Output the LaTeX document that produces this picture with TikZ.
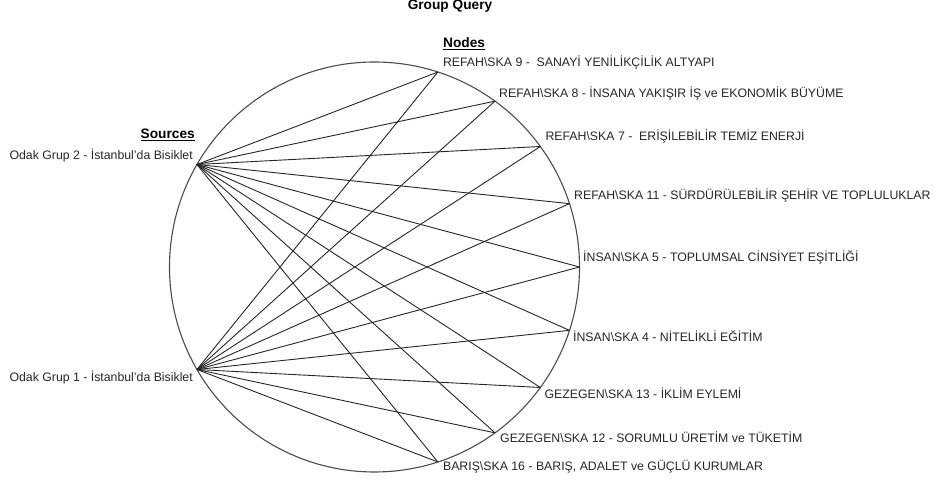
\documentclass[tikz,border=0pt]{standalone}
\usepackage{fontspec}
\setmainfont{Liberation Sans}
\newcommand{\apos}{{\char"27}}
\begin{document}
\begin{tikzpicture}[x=1pt,y=1pt,
  lbl/.style={inner sep=0pt,anchor=base west,font=\fontsize{12.3}{14}\selectfont,text=black!85},
  srclbl/.style={inner sep=0pt,anchor=base east,font=\fontsize{12.3}{14}\selectfont,text=black!85},
  hdr/.style={inner sep=0pt,font=\fontsize{13.7}{16}\selectfont\bfseries},
  edge/.style={line width=0.9pt,draw=black!85},
  ring/.style={line width=1.1pt,draw=black!70}]
\useasboundingbox (0,0) rectangle (934,484);
\coordinate (c) at (374.5,217);
\draw[ring] (c) circle (205);
\begin{scope}[shift={(374.5,217)}]
  \coordinate (n9)  at (72:205);
  \coordinate (n8)  at (54:205);
  \coordinate (n7)  at (36:205);
  \coordinate (n11) at (18:205);
  \coordinate (n5)  at (0:205);
  \coordinate (n4)  at (-18:205);
  \coordinate (n13) at (-36:205);
  \coordinate (n12) at (-54:205);
  \coordinate (n16) at (-72:205);
  \coordinate (s2)  at (150:205);
  \coordinate (s1)  at (210:205);
\end{scope}
% connectors
\foreach \s in {s2,s1}{
  \foreach \n in {n9,n8,n7,n11,n5,n4,n13,n12,n16}{
    \draw[edge] (\s) -- (\n);
  }
}
% titles
\node[hdr,anchor=base] (title) at (450,474) {Group Query};
\node[hdr,anchor=base west] (nodes) at (443,436) {\underline{Nodes}};
\node[hdr,anchor=base east] (sources) at (195,345) {\underline{Sources}};
% node labels
\node[lbl] (l9)  at ([shift={(5,6)}]n9)  {REFAH\textbackslash SKA 9 -\ \ SANAYİ YENİLİKÇİLİK ALTYAPI};
\node[lbl] (l8)  at ([shift={(4,4)}]n8)  {REFAH\textbackslash SKA 8 - İNSANA YAKIŞIR İŞ ve EKONOMİK BÜYÜME};
\node[lbl] (l7)  at ([shift={(5,5.5)}]n7) {REFAH\textbackslash SKA 7 -\ \ ERİŞİLEBİLİR TEMİZ ENERJİ};
\node[lbl] (l11) at ([shift={(4.5,4.6)}]n11) {REFAH\textbackslash SKA 11 - SÜRDÜRÜLEBİLİR ŞEHİR VE TOPLULUKLAR};
\node[lbl] (l5)  at ([shift={(3.5,5)}]n5) {İNSAN\textbackslash SKA 5 - TOPLUMSAL CİNSİYET EŞİTLİĞİ};
\node[lbl] (l4)  at ([shift={(3.5,-11.6)}]n4) {İNSAN\textbackslash SKA 4 - NİTELİKLİ EĞİTİM};
\node[lbl] (l13) at ([shift={(4,-11.5)}]n13) {GEZEGEN\textbackslash SKA 13 - İKLİM EYLEMİ};
\node[lbl] (l12) at ([shift={(5,-10)}]n12) {GEZEGEN\textbackslash SKA 12 - SORUMLU ÜRETİM ve TÜKETİM};
\node[lbl] (l16) at ([shift={(5,-9)}]n16) {BARIŞ\textbackslash SKA 16 - BARIŞ, ADALET ve GÜÇLÜ KURUMLAR};
% source labels
\node[srclbl] (ls2) at ([shift={(-4,4.5)}]s2) {Odak Grup 2 - İstanbul\apos da Bisiklet};
\node[srclbl] (ls1) at ([shift={(-4,-12.5)}]s1) {Odak Grup 1 - İstanbul\apos da Bisiklet};
\end{tikzpicture}
\end{document}
